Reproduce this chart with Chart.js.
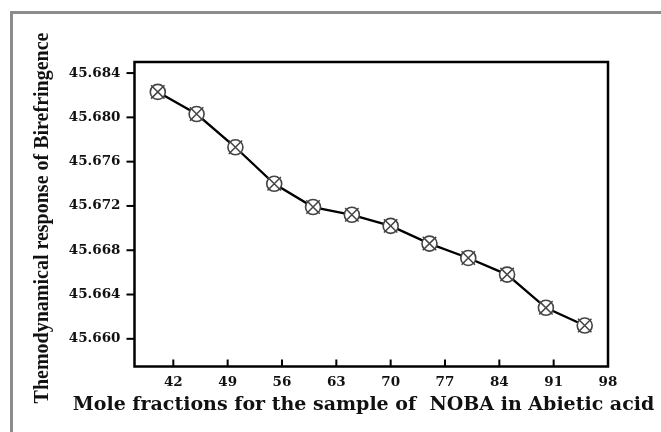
<!DOCTYPE html>
<html>
<head>
<meta charset="utf-8">
<script src="https://cdn.jsdelivr.net/npm/chart.js@4/dist/chart.umd.min.js"></script>
<style>
  html, body { margin: 0; padding: 0; background: #ffffff; }
  #wrap { position: relative; width: 661px; height: 432px; overflow: hidden; background: #ffffff; }
  #frame { position: absolute; left: 10px; top: 11px; width: 700px; height: 460px;
           border-top: 3px solid #8c8c8c; border-left: 3px solid #8c8c8c; }
  #c { position: absolute; left: 0; top: 0; }
</style>
</head>
<body>
<div id="wrap">
  <div id="frame"></div>
  <canvas id="c" width="661" height="432"></canvas>
</div>
<script>
// ---- data ----
const moleFractions = [40, 45, 50, 55, 60, 65, 70, 75, 80, 85, 90, 95];
const birefringence = [45.6823, 45.6803, 45.6773, 45.6740, 45.6719, 45.6712,
                       45.6702, 45.6686, 45.6673, 45.6658, 45.6628, 45.6612];
const xTickValues = [42, 49, 56, 63, 70, 77, 84, 91, 98];
const yTickValues = [45.660, 45.664, 45.668, 45.672, 45.676, 45.680, 45.684];
const xTitle = 'Mole fractions for the sample of  NOBA in Abietic acid';
const yTitle = 'Themodynamical response of Birefringence';

const points = moleFractions.map((x, i) => ({ x: x, y: birefringence[i] }));

const CHART_LEFT = 134.5, CHART_TOP = 62, CHART_RIGHT = 608, CHART_BOTTOM = 366.5;
const PAD_LEFT = 13;

// frame box, tick marks (y outward, x inward) and axis titles
const boxPlugin = {
  id: 'box',
  beforeDatasetsDraw(chart) {
    const a = chart.chartArea, ctx = chart.ctx;
    ctx.save();
    ctx.strokeStyle = '#000000';
    ctx.lineWidth = 2.5;
    ctx.strokeRect(a.left, a.top, a.right - a.left, a.bottom - a.top);
    ctx.restore();
  },
  afterDraw(chart) {
    const a = chart.chartArea, ctx = chart.ctx;
    const xs = chart.scales.x, ys = chart.scales.y;
    ctx.save();
    ctx.fillStyle = '#000000';
    yTickValues.forEach(v => {
      const py = ys.getPixelForValue(v);
      ctx.fillRect(a.left - 8, py - 1, 8, 2);
    });
    xTickValues.forEach(v => {
      const px = xs.getPixelForValue(v);
      ctx.fillRect(px - 1, a.bottom - 7, 2, 7);
    });
    ctx.fillStyle = '#111111';
    ctx.textAlign = 'center';
    ctx.textBaseline = 'middle';
    ctx.font = 'bold 19px "DejaVu Serif"';
    ctx.fillText(xTitle, 363.5, 405);
    ctx.translate(43, 218);
    ctx.rotate(-Math.PI / 2);
    ctx.font = 'bold 20px "Liberation Serif"';
    ctx.fillText(yTitle, 0, 0);
    ctx.restore();
  }
};

new Chart(document.getElementById('c'), {
  type: 'scatter',
  data: {
    datasets: [
      {
        data: points,
        showLine: false,
        pointStyle: 'crossRot',
        pointRadius: 9.5,
        pointBorderColor: '#444',
        pointBorderWidth: 1.5,
        pointBackgroundColor: 'rgba(0,0,0,0)'
      },
      {
        data: points,
        showLine: true,
        borderColor: '#000',
        borderWidth: 2.3,
        pointStyle: 'circle',
        pointRadius: 7.5,
        pointBorderColor: '#444',
        pointBorderWidth: 1.6,
        pointBackgroundColor: '#ffffff'
      }
    ]
  },
  options: {
    responsive: false,
    animation: false,
    devicePixelRatio: 1,
    layout: { padding: { left: PAD_LEFT, top: CHART_TOP, right: 661 - CHART_RIGHT, bottom: 0 } },
    plugins: { legend: { display: false }, tooltip: { enabled: false } },
    scales: {
      x: {
        type: 'linear',
        min: 37, max: 98,
        afterBuildTicks(s) { s.ticks = xTickValues.map(v => ({ value: v })); },
        afterFit(s) { s.height = 432 - CHART_BOTTOM; },
        border: { display: false },
        grid: { display: false, drawTicks: false },
        ticks: {
          padding: 8,
          color: '#111',
          font: { family: 'DejaVu Serif', weight: 'bold', size: 13.5 },
          callback: v => String(v)
        },
        title: { display: false }
      },
      y: {
        type: 'linear',
        min: 45.6575, max: 45.685,
        afterBuildTicks(s) { s.ticks = yTickValues.map(v => ({ value: v })); },
        afterFit(s) { s.width = CHART_LEFT - PAD_LEFT; },
        border: { display: false },
        grid: { display: false, drawTicks: false },
        ticks: {
          padding: 14,
          color: '#111',
          font: { family: 'DejaVu Serif', weight: 'bold', size: 13.5 },
          callback: v => Number(v).toFixed(3)
        },
        title: { display: false }
      }
    }
  },
  plugins: [boxPlugin]
});
</script>
</body>
</html>
